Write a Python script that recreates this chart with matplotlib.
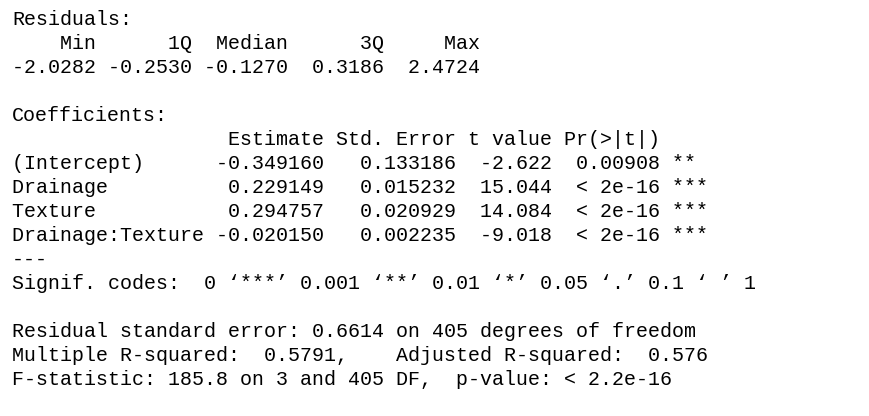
import matplotlib
matplotlib.use("Agg")
import matplotlib.pyplot as plt

# residual quantiles
res_names = ["Min", "1Q", "Median", "3Q", "Max"]
res_values = ["-2.0282", "-0.2530", "-0.1270", "0.3186", "2.4724"]

# coefficient table
coef_names = ["(Intercept)", "Drainage", "Texture", "Drainage:Texture"]
estimates = ["-0.349160", "0.229149", "0.294757", "-0.020150"]
std_errors = ["0.133186", "0.015232", "0.020929", "0.002235"]
t_values = ["-2.622", "15.044", "14.084", "-9.018"]
p_values = ["0.00908", "< 2e-16", "< 2e-16", "< 2e-16"]
stars = ["** ", "***", "***", "***"]
col_heads = ["Estimate", "Std. Error", "t value", "Pr(>|t|)"]

signif = "Signif. codes:  0 \u2018***\u2019 0.001 \u2018**\u2019 0.01 \u2018*\u2019 0.05 \u2018.\u2019 0.1 \u2018 \u2019 1"
rse, df_resid = "0.6614", 405
r2, adj_r2 = "0.5791", "0.576"
fstat, df1 = "185.8", 3
pval = "< 2.2e-16"

# build the console lines like R's summary.lm
rw = max(len(s) for s in res_names + res_values)
lines = ["Residuals:"]
lines.append(" ".join(n.rjust(rw) for n in res_names))
lines.append(" ".join(v.rjust(rw) for v in res_values))
lines.append("")
lines.append("Coefficients:")

nw = max(len(n) for n in coef_names)
cols = [estimates, std_errors, t_values, p_values]
cw = [max(len(h), max(len(v) for v in c)) for h, c in zip(col_heads, cols)]
lines.append(" " * nw + " " + " ".join(h.rjust(k) for h, k in zip(col_heads, cw)))
for i, name in enumerate(coef_names):
    row = name.ljust(nw) + " " + " ".join(c[i].rjust(k) for c, k in zip(cols, cw))
    lines.append(row + " " + stars[i])
lines.append("---")
lines.append(signif)
lines.append("")
lines.append("Residual standard error: %s on %d degrees of freedom" % (rse, df_resid))
first = "Multiple R-squared:  %s," % r2
lines.append(first.ljust(32) + "Adjusted R-squared:  %s " % adj_r2)
lines.append("F-statistic: %s on %d and %d DF,  p-value: %s" % (fstat, df1, df_resid, pval))

W, H = 870, 416
fig = plt.figure(figsize=(W / 100, H / 100), dpi=100)
fig.patch.set_facecolor("white")

x0 = 12
base0 = 25
step = 24
for i, line in enumerate(lines):
    if not line:
        continue
    fig.text(x0 / W, 1 - (base0 + i * step) / H, line,
             family=["Liberation Mono", "DejaVu Sans Mono"], fontsize=14.4,
             color="black", ha="left", va="baseline")

fig.savefig("out.png", dpi=100, facecolor="white")
